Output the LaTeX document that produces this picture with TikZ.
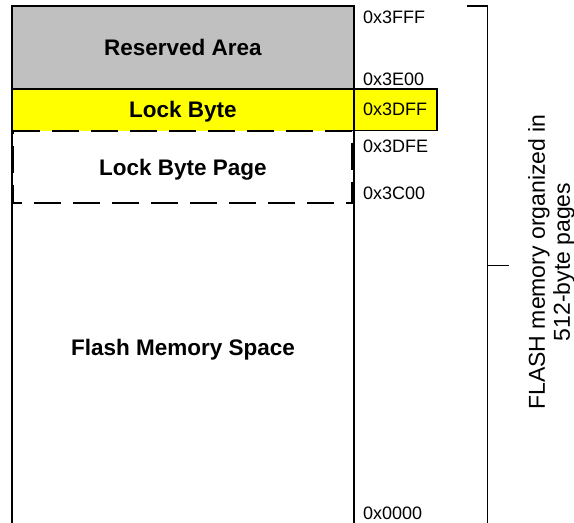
\documentclass[tikz,border=0pt]{standalone}
\usepackage{fontspec}
\setmainfont{Liberation Sans}
\definecolor{resgray}{HTML}{C0C0C0}
\definecolor{lockyellow}{HTML}{FFFF00}

\begin{document}
\begin{tikzpicture}[x=1pt, y=-1pt,
  every node/.style = {inner sep=0pt},
  area/.style = {font=\fontsize{22.5}{26}\selectfont\bfseries, anchor=base},
  addr/.style = {font=\fontsize{18}{21}\selectfont, anchor=base west},
  wall/.style = {line width=1.5pt},
  pageline/.style = {line width=2.4pt, dash pattern=on 27pt off 12pt}]
  \useasboundingbox (0,0) rectangle (574,523);
  % regions of the memory
  \fill[resgray] (12,6) rectangle (354,89);
  \fill[lockyellow] (12,89) rectangle (354,130.7);
  \draw[wall] (12,89) -- (354,89);
  \draw[pageline] (13,130.7) -- (352,130.7) -- (352,202.7) -- (13,202.7) -- cycle;
  \draw[wall] (12,523) -- (12,6) -- (354,6) -- (354,523);
  \draw[line width=1.2pt, fill=lockyellow] (354,89) rectangle (437,130.7);
  \node[area] (reserved) at (183,55) {Reserved Area};
  \node[area] (lockbyte) at (183,117) {Lock Byte};
  \node[area] (lockpage) at (183,175) {Lock Byte Page};
  \node[area] (flashspace) at (183,355) {Flash Memory Space};
  % addresses
  \node[addr] (a3fff) at (363,23) {0x3FFF};
  \node[addr] (a3e00) at (363,85) {0x3E00};
  \node[addr] (a3dff) at (363,115.5) {0x3DFF};
  \node[addr] (a3dfe) at (363,152) {0x3DFE};
  \node[addr] (a3c00) at (363,199) {0x3C00};
  \node[addr] (a0000) at (363,519) {0x0000};
  % page bracket
  \coordinate (brtop) at (467,6);
  \coordinate (brcorner) at (487.5,6);
  \coordinate (brbottom) at (487.5,523);
  \coordinate (tickin) at (487.5,265);
  \coordinate (tickout) at (509,265);
  \draw[line width=1.2pt] (brtop) -- (brcorner) -- (brbottom);
  \draw[line width=1pt] (tickin) -- (tickout);
  \node[rotate=90, align=center, font=\fontsize{23}{25}\selectfont]
    (pagenote) at (551.5,262) {FLASH memory organized in\\512-byte pages};
\end{tikzpicture}
\end{document}
